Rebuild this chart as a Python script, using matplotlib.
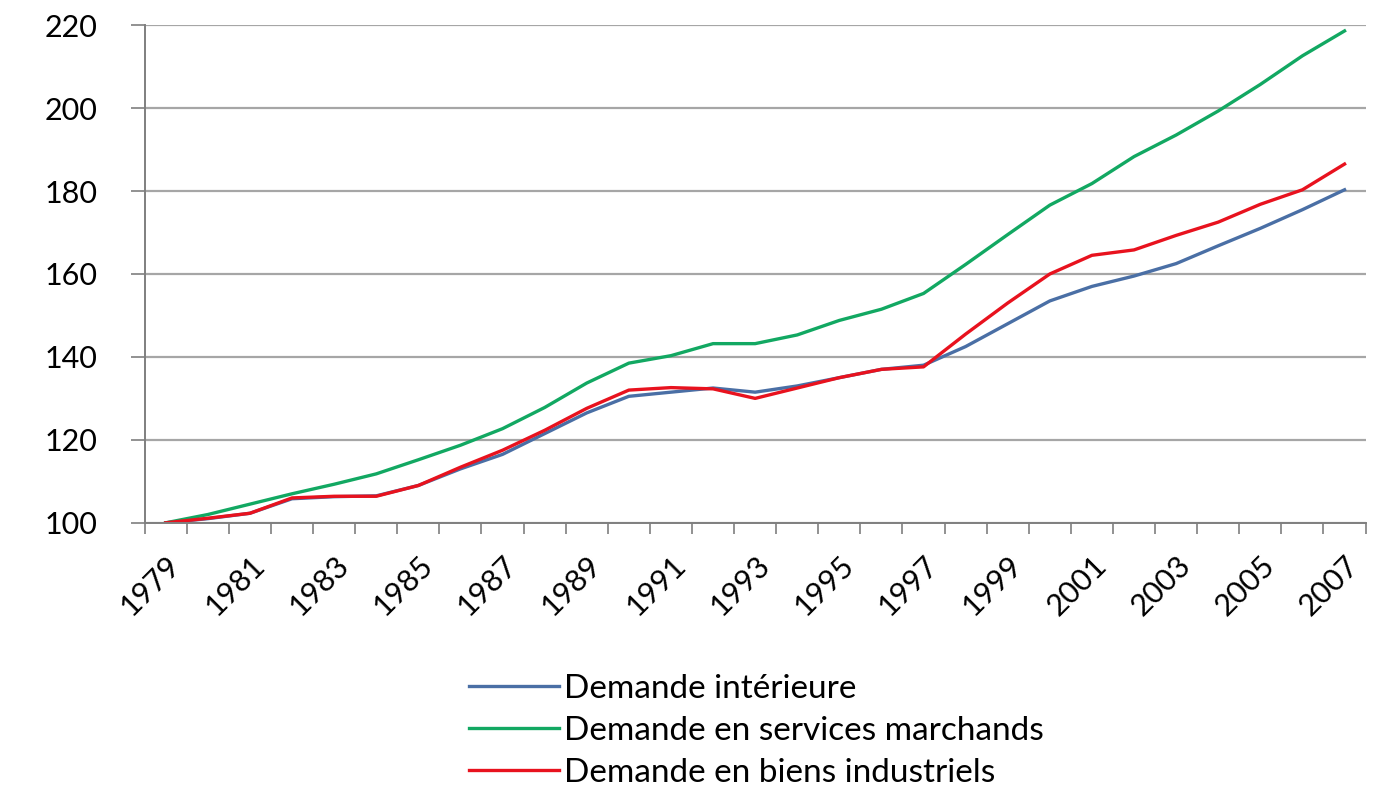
import numpy as np
import matplotlib.pyplot as plt
from matplotlib.ticker import FixedLocator
from matplotlib.transforms import ScaledTranslation

plt.rcParams['font.family'] = ['Lato', 'DejaVu Sans']

# données (indice base 100 en 1979)
annees = list(range(1979, 2008))
demande_interieure = [100, 101, 102.3, 105.8, 106.3, 106.5, 109, 113, 116.5, 121.5,
                      126.5, 130.5, 131.5, 132.5, 131.5, 133, 135, 137, 138, 142.5,
                      148, 153.5, 157, 159.5, 162.5, 166.8, 171, 175.5, 180.3]
services_marchands = [100, 102, 104.5, 107, 109.3, 111.8, 115.2, 118.7, 122.7, 127.8,
                      133.7, 138.5, 140.3, 143.2, 143.2, 145.3, 148.8, 151.5, 155.3, 162.3,
                      169.5, 176.6, 181.8, 188.3, 193.5, 199.3, 205.7, 212.6, 218.6]
biens_industriels = [100, 101.1, 102.3, 106, 106.4, 106.4, 109, 113.4, 117.5, 122.3,
                     127.6, 132, 132.6, 132.3, 130, 132.5, 135, 137, 137.6, 145.5,
                     153, 160, 164.5, 165.8, 169.3, 172.5, 176.8, 180.3, 186.5]

labels = ['Demande intérieure', 'Demande en services marchands', 'Demande en biens industriels']
couleurs = ['#4A6FA5', '#12A862', '#E8121E']

fig = plt.figure(figsize=(13.78, 7.85), dpi=100)
ax = fig.add_axes([0.105, 0.334, 0.886, 0.634])

x = np.arange(len(annees))
for serie, lab, c in zip([demande_interieure, services_marchands, biens_industriels], labels, couleurs):
    ax.plot(x, serie, color=c, lw=2.4, label=lab)

ax.set_xlim(-0.5, len(annees) - 0.5)
ax.set_ylim(100, 220)
ax.set_yticks(range(100, 221, 20))
ax.yaxis.grid(True, color='#A6A6A6', lw=1.6)
ax.set_axisbelow(True)

ax.set_xticks(x[::2])
ax.set_xticklabels([str(a) for a in annees[::2]], rotation=45, ha='right',
                   rotation_mode='anchor', fontsize=22)
decal = ScaledTranslation(20 / 100, 0, fig.dpi_scale_trans)
for t in ax.get_xticklabels():
    t.set_transform(t.get_transform() + decal)
ax.xaxis.set_minor_locator(FixedLocator(np.arange(-0.5, len(annees), 1)))
ax.tick_params(axis='x', which='major', length=0, pad=20)
ax.tick_params(axis='x', which='minor', length=8, width=1.2, color='#7F7F7F', direction='out')
ax.tick_params(axis='y', length=10, width=1.2, color='#7F7F7F', labelsize=22, pad=24)

for s in ['top', 'right']:
    ax.spines[s].set_visible(False)
for s in ['left', 'bottom']:
    ax.spines[s].set_color('#7F7F7F')
    ax.spines[s].set_linewidth(1.4)

fig.legend(loc='upper center', bbox_to_anchor=(0.549, 0.18), frameon=False,
           fontsize=24, handlelength=2.7, handletextpad=0.15, labelspacing=0.36)

fig.savefig('out.png', dpi=100)
